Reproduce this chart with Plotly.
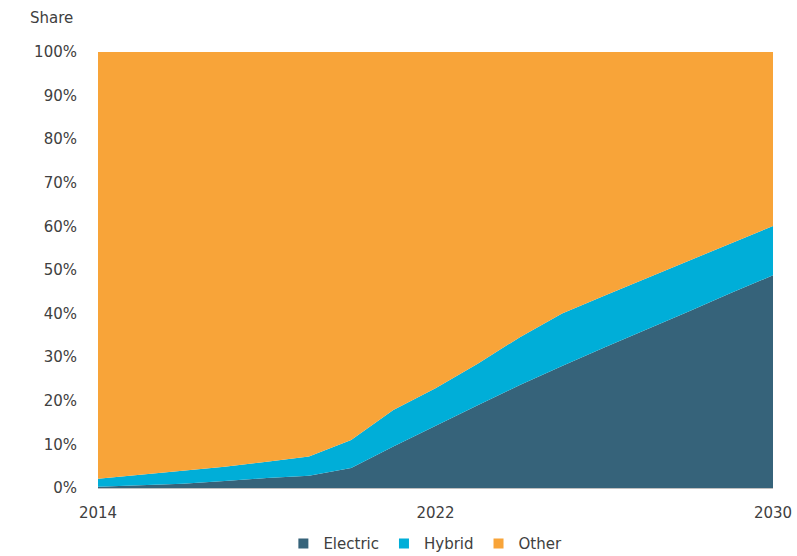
import plotly.graph_objects as go

years = list(range(2014, 2031))
electric = [0.3, 0.6, 1.0, 1.6, 2.3, 2.8, 4.6, 9.5, 14.3, 19.0, 23.6, 28.0, 32.2, 36.3, 40.5, 44.7, 48.8]
hybrid = [1.8, 2.4, 2.9, 3.3, 3.7, 4.4, 6.4, 8.4, 8.6, 9.5, 11.0, 12.0, 11.9, 11.8, 11.6, 11.4, 11.3]
other = [round(100 - e - h, 1) for e, h in zip(electric, hybrid)]

series_names = ["Electric", "Hybrid", "Other"]
series_values = [electric, hybrid, other]
colors = ["#36637a", "#00aed8", "#f8a439"]

x_ticks = [2014, 2022, 2030]
y_ticks = [0, 10, 20, 30, 40, 50, 60, 70, 80, 90, 100]
y_tick_labels = [f"{v}%" for v in y_ticks]

fig = go.Figure()
for name, vals, col in zip(series_names, series_values, colors):
    fig.add_trace(go.Scatter(
        x=years, y=vals, name=name, mode="lines",
        stackgroup="one", line=dict(width=0, color=col),
        fillcolor=col, showlegend=False, hoverinfo="x+y+name",
    ))
for name, col in zip(series_names, colors):
    fig.add_trace(go.Scatter(
        x=[None], y=[None], name=name, mode="markers",
        marker=dict(symbol="square", size=10, color=col),
        showlegend=True,
    ))

font_color = "#404040"
fam = "DejaVu Sans, sans-serif"
fig.update_layout(
    width=797, height=556,
    margin=dict(l=98, r=24, t=52, b=68, autoexpand=False),
    paper_bgcolor="white", plot_bgcolor="white",
    font=dict(family=fam, size=15, color=font_color),
    xaxis=dict(
        range=[2014, 2030], tickvals=x_ticks, ticktext=[str(t) for t in x_ticks],
        showgrid=False, zeroline=False, showline=True, linecolor="#bfbfbf", linewidth=1,
        ticks="", ticklabelstandoff=11, tickfont=dict(family=fam, size=15, color=font_color),
    ),
    yaxis=dict(
        range=[0, 100], tickvals=y_ticks, ticktext=y_tick_labels,
        showgrid=False, zeroline=False, showline=False,
        ticks="", ticklabelstandoff=20, tickfont=dict(family=fam, size=15, color=font_color),
    ),
    legend=dict(
        orientation="h", x=0.485, xanchor="center", y=-0.128, yanchor="middle",
        font=dict(family=fam, size=15, color=font_color), itemwidth=30,
        traceorder="normal", bgcolor="rgba(0,0,0,0)",
    ),
    annotations=[dict(
        text="Share", xref="paper", yref="paper", x=-0.104, y=1.078,
        xanchor="left", yanchor="middle", showarrow=False,
        font=dict(family=fam, size=15, color=font_color),
    )],
)

fig.write_html("out.html")
